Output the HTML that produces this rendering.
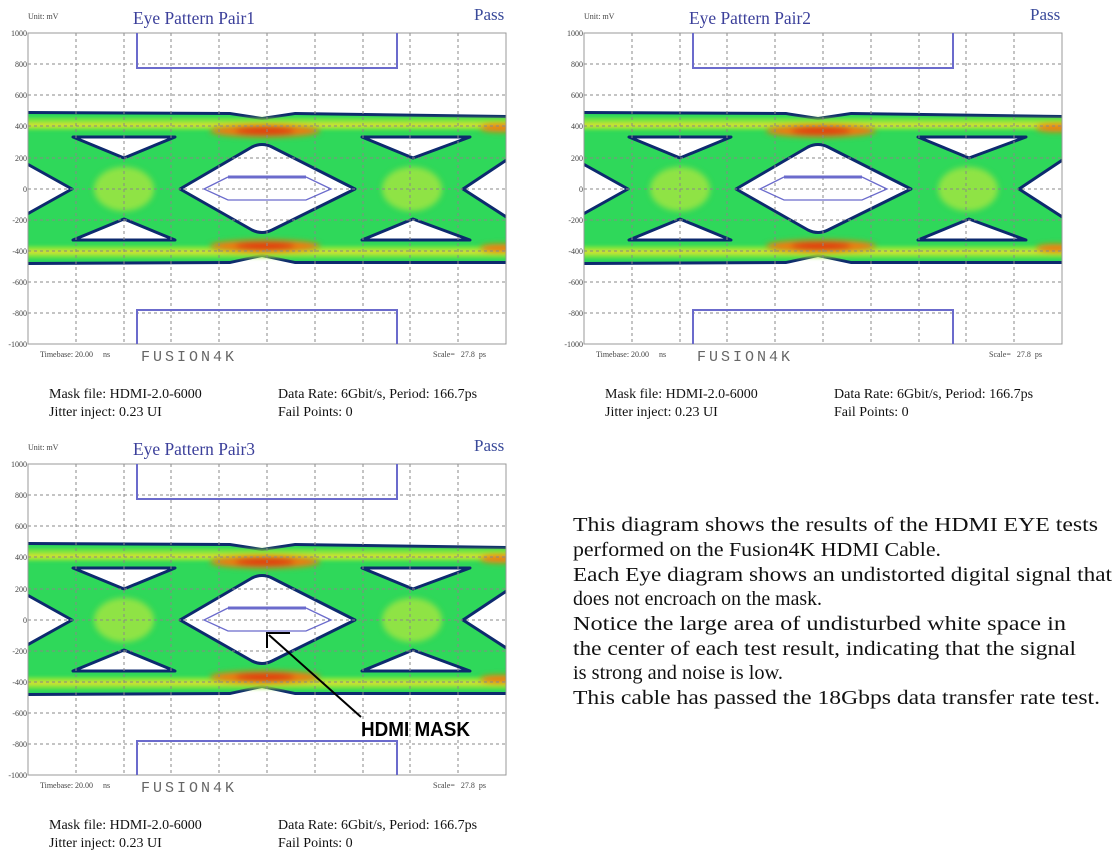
<!DOCTYPE html>
<html><head><meta charset="utf-8"><style>
html,body{margin:0;padding:0;background:#fff;}
svg{display:block;}
.ax{font-family:"Liberation Serif",serif;font-size:8px;fill:#444;}
.ti{font-family:"Liberation Serif",serif;font-size:18px;fill:#3b3f9a;}
.ps{font-family:"Liberation Serif",serif;font-size:17px;fill:#3a4a9a;}
.fu{font-family:"Liberation Mono",monospace;font-size:15px;fill:#666;letter-spacing:3px;}
.inf{font-family:"Liberation Serif",serif;font-size:14px;fill:#111;}
.big{font-family:"Liberation Serif",serif;font-size:20px;fill:#111;}
</style></head><body>
<svg width="1118" height="857" viewBox="0 0 1118 857" xmlns="http://www.w3.org/2000/svg">
<defs>
<clipPath id="pc"><rect x="28" y="33" width="478" height="311"/></clipPath>
<filter id="bl" x="-20%" y="-50%" width="140%" height="200%"><feGaussianBlur stdDeviation="3"/></filter>
<filter id="bl2" x="-20%" y="-50%" width="140%" height="200%"><feGaussianBlur stdDeviation="1.5"/></filter>
<g id="eye">
  <rect x="28" y="33" width="478" height="311" fill="#fff"/>
  <g clip-path="url(#pc)">
  <path d="M28,111 L230,112 L262,117 L295,112 L506,115 L506,264 L295,264 L262,257 L230,264 L28,265 Z" fill="#0d2a6e"/>
  <path d="M28,114 L230,115 L262,120 L295,115 L506,118 L506,261 L295,261 L262,254 L230,261 L28,262 Z" fill="#2fd85a"/>
  <g filter="url(#bl2)">
    <rect x="20" y="118" width="500" height="12" fill="#8fe83a" opacity="0.8"/>
    <rect x="20" y="246" width="500" height="12" fill="#8fe83a" opacity="0.8"/>
    <rect x="20" y="123" width="500" height="4" fill="#e8e030" opacity="0.8"/>
    <rect x="20" y="250" width="500" height="4" fill="#e8e030" opacity="0.8"/>
  </g>
  <g filter="url(#bl)">
    <ellipse cx="265" cy="131" rx="55" ry="6" fill="#f07a10"/>
    <ellipse cx="265" cy="246" rx="55" ry="6" fill="#f07a10"/>
    <ellipse cx="265" cy="131" rx="30" ry="4" fill="#e03a10"/>
    <ellipse cx="265" cy="246" rx="30" ry="4" fill="#e03a10"/>
    <ellipse cx="500" cy="128" rx="20" ry="4" fill="#f07a10"/>
    <ellipse cx="500" cy="248" rx="20" ry="4" fill="#f07a10"/>
    <ellipse cx="124" cy="189" rx="30" ry="22" fill="#b8e83a" opacity="0.7"/>
    <ellipse cx="412" cy="189" rx="30" ry="22" fill="#b8e83a" opacity="0.7"/>
  </g>
  <g fill="#fff" stroke="#0d2a6e" stroke-width="3" stroke-linejoin="round">
    <path d="M180,189 L252,147 Q262,142 272,147 L355,189 L272,230 Q262,235 252,230 Z"/>
    <path d="M73,137 L175,137 L124,158 Z"/>
    <path d="M73,240 L175,240 L124,219 Z"/>
    <path d="M362,137 L470,137 L413,158 Z"/>
    <path d="M362,240 L470,240 L413,219 Z"/>
    <path d="M20,160 L72,189 L20,218 Z"/>
    <path d="M514,155 L463,189 L514,222 Z"/>
  </g>
  </g>
  <g stroke="#888" stroke-width="1" stroke-dasharray="3,3" fill="none">
    <path d="M28,64H506M28,95H506M28,126H506M28,158H506M28,189H506M28,220H506M28,251H506M28,282H506M28,313H506"/>
    <path d="M76,33V344M124,33V344M171,33V344M219,33V344M267,33V344M315,33V344M363,33V344M410,33V344M458,33V344"/>
  </g>
  <rect x="28" y="33" width="478" height="311" fill="none" stroke="#999" stroke-width="1"/>
  <g fill="none" stroke="#6b6bcc" stroke-width="2">
    <path d="M137,33V68H397V33"/>
    <path d="M137,344V310H397V344"/>
    <path d="M228,177H306" stroke-width="3"/>
    <path d="M228,177L204,189L228,200H306L331,189L306,177" stroke-width="1.3"/>
  </g>
</g>
</defs>

<use href="#eye"/>
<use href="#eye" x="556"/>
<use href="#eye" y="431"/>

<g>
<text x="28" y="19" class="ax">Unit: mV</text>
<text x="133" y="24" class="ti" textLength="122" lengthAdjust="spacingAndGlyphs">Eye Pattern Pair1</text>
<text x="474" y="20" class="ps">Pass</text>
<g class="ax" text-anchor="end"><text x="27" y="36">1000</text><text x="27" y="67">800</text><text x="27" y="98">600</text><text x="27" y="129">400</text><text x="27" y="161">200</text><text x="27" y="192">0</text><text x="27" y="223">-200</text><text x="27" y="254">-400</text><text x="27" y="285">-600</text><text x="27" y="316">-800</text><text x="27" y="347">-1000</text></g>
<text x="40" y="357" class="ax">Timebase: 20.00&#160;&#160;&#160;&#160;&#160;ns</text>
<text x="141" y="361" class="fu">FUSION4K</text>
<text x="433" y="357" class="ax">Scale=&#160;&#160;&#160;27.8&#160;&#160;ps</text>
<text x="49" y="398" class="inf">Mask file: HDMI-2.0-6000</text>
<text x="49" y="416" class="inf">Jitter inject: 0.23 UI</text>
<text x="278" y="398" class="inf">Data Rate: 6Gbit/s, Period: 166.7ps</text>
<text x="278" y="416" class="inf">Fail Points: 0</text>
</g>
<g transform="translate(556,0)">
<text x="28" y="19" class="ax">Unit: mV</text>
<text x="133" y="24" class="ti" textLength="122" lengthAdjust="spacingAndGlyphs">Eye Pattern Pair2</text>
<text x="474" y="20" class="ps">Pass</text>
<g class="ax" text-anchor="end"><text x="27" y="36">1000</text><text x="27" y="67">800</text><text x="27" y="98">600</text><text x="27" y="129">400</text><text x="27" y="161">200</text><text x="27" y="192">0</text><text x="27" y="223">-200</text><text x="27" y="254">-400</text><text x="27" y="285">-600</text><text x="27" y="316">-800</text><text x="27" y="347">-1000</text></g>
<text x="40" y="357" class="ax">Timebase: 20.00&#160;&#160;&#160;&#160;&#160;ns</text>
<text x="141" y="361" class="fu">FUSION4K</text>
<text x="433" y="357" class="ax">Scale=&#160;&#160;&#160;27.8&#160;&#160;ps</text>
<text x="49" y="398" class="inf">Mask file: HDMI-2.0-6000</text>
<text x="49" y="416" class="inf">Jitter inject: 0.23 UI</text>
<text x="278" y="398" class="inf">Data Rate: 6Gbit/s, Period: 166.7ps</text>
<text x="278" y="416" class="inf">Fail Points: 0</text>
</g>
<g transform="translate(0,431)">
<text x="28" y="19" class="ax">Unit: mV</text>
<text x="133" y="24" class="ti" textLength="122" lengthAdjust="spacingAndGlyphs">Eye Pattern Pair3</text>
<text x="474" y="20" class="ps">Pass</text>
<g class="ax" text-anchor="end"><text x="27" y="36">1000</text><text x="27" y="67">800</text><text x="27" y="98">600</text><text x="27" y="129">400</text><text x="27" y="161">200</text><text x="27" y="192">0</text><text x="27" y="223">-200</text><text x="27" y="254">-400</text><text x="27" y="285">-600</text><text x="27" y="316">-800</text><text x="27" y="347">-1000</text></g>
<text x="40" y="357" class="ax">Timebase: 20.00&#160;&#160;&#160;&#160;&#160;ns</text>
<text x="141" y="361" class="fu">FUSION4K</text>
<text x="433" y="357" class="ax">Scale=&#160;&#160;&#160;27.8&#160;&#160;ps</text>
<text x="49" y="398" class="inf">Mask file: HDMI-2.0-6000</text>
<text x="49" y="416" class="inf">Jitter inject: 0.23 UI</text>
<text x="278" y="398" class="inf">Data Rate: 6Gbit/s, Period: 166.7ps</text>
<text x="278" y="416" class="inf">Fail Points: 0</text>
</g>

<g stroke="#000" stroke-width="2" fill="none">
  <path d="M361,717 L269,635"/>
  <path d="M267,648 V633 H290"/>
</g>
<text x="361" y="736" font-family="Liberation Sans, sans-serif" font-weight="bold" font-size="20" fill="#000" textLength="109" lengthAdjust="spacingAndGlyphs">HDMI MASK</text>

<text x="573" y="531" class="big" textLength="525" lengthAdjust="spacingAndGlyphs">This diagram shows the results of the HDMI EYE tests</text>
<text x="573" y="556" class="big" textLength="368" lengthAdjust="spacingAndGlyphs">performed on the Fusion4K HDMI Cable.</text>
<text x="573" y="581" class="big" textLength="539" lengthAdjust="spacingAndGlyphs">Each Eye diagram shows an undistorted digital signal that</text>
<text x="573" y="605" class="big" textLength="249" lengthAdjust="spacingAndGlyphs">does not encroach on the mask.</text>
<text x="573" y="630" class="big" textLength="493" lengthAdjust="spacingAndGlyphs">Notice the large area of undisturbed white space in</text>
<text x="573" y="655" class="big" textLength="503" lengthAdjust="spacingAndGlyphs">the center of each test result, indicating that the signal</text>
<text x="573" y="679" class="big" textLength="210" lengthAdjust="spacingAndGlyphs">is strong and noise is low.</text>
<text x="573" y="704" class="big" textLength="527" lengthAdjust="spacingAndGlyphs">This cable has passed the 18Gbps data transfer rate test.</text>
</svg>
</body></html>
